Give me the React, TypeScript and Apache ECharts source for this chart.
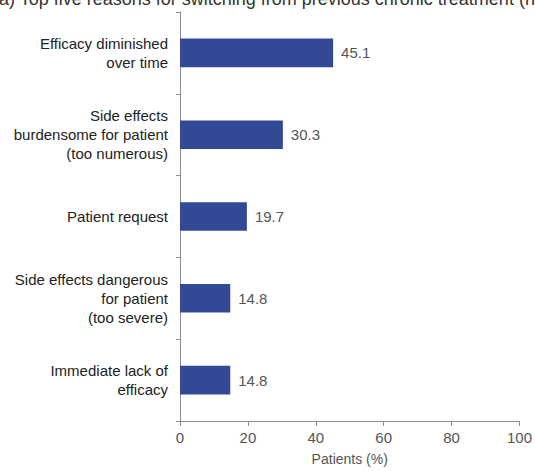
import React, { useEffect, useRef } from "react";
import * as echarts from "echarts";

const categories = [
  "Efficacy diminished\nover time",
  "Side effects\nburdensome for patient\n(too numerous)",
  "Patient request",
  "Side effects dangerous\nfor patient\n(too severe)",
  "Immediate lack of\nefficacy",
];
const values = [45.1, 30.3, 19.7, 14.8, 14.8];
const xTicks = [0, 20, 40, 60, 80, 100];
const titleText = "(a) Top five reasons for switching from previous chronic treatment (n";

export default function App() {
  const ref = useRef<HTMLDivElement>(null);
  useEffect(() => {
    if (!ref.current) return;
    const chart = echarts.init(ref.current, null, { renderer: "svg" });
    chart.setOption({
      animation: false,
      textStyle: { fontFamily: "Liberation Sans, Arial, sans-serif" },
      graphic: [
        {
          type: "text",
          left: -7,
          top: -10,
          style: {
            text: titleText,
            font: "18px Liberation Sans, Arial, sans-serif",
            fill: "#333",
          },
        },
      ],
      grid: { left: 180, right: 15, top: 12, bottom: 44 },
      xAxis: {
        type: "value",
        min: xTicks[0],
        max: xTicks[xTicks.length - 1],
        interval: 20,
        name: "Patients (%)",
        nameLocation: "middle",
        nameGap: 31,
        nameTextStyle: { fontSize: 14, color: "#555" },
        axisLine: { show: true, lineStyle: { color: "#8c8c8c", width: 1 } },
        axisTick: { show: true, length: 5, lineStyle: { color: "#8c8c8c" } },
        axisLabel: { fontSize: 15, color: "#555", margin: 9 },
        splitLine: { show: false },
      },
      yAxis: {
        type: "category",
        data: categories,
        inverse: true,
        axisLine: { show: true, lineStyle: { color: "#8c8c8c", width: 1 } },
        axisTick: { show: true, length: 4, lineStyle: { color: "#8c8c8c" } },
        axisLabel: {
          fontSize: 15,
          color: "#222",
          lineHeight: 19,
          margin: 12,
          align: "right",
        },
      },
      series: [
        {
          type: "bar",
          data: values,
          barWidth: "35%",
          itemStyle: { color: "#324a95" },
          label: {
            show: true,
            position: "right",
            distance: 8,
            fontSize: 15,
            color: "#555",
            formatter: (p: any) => p.value.toFixed(1),
          },
        },
      ],
    });
    return () => chart.dispose();
  }, []);
  return <div ref={ref} style={{ width: 535, height: 471, position: "absolute", left: 0, top: 0 }} />;
}
